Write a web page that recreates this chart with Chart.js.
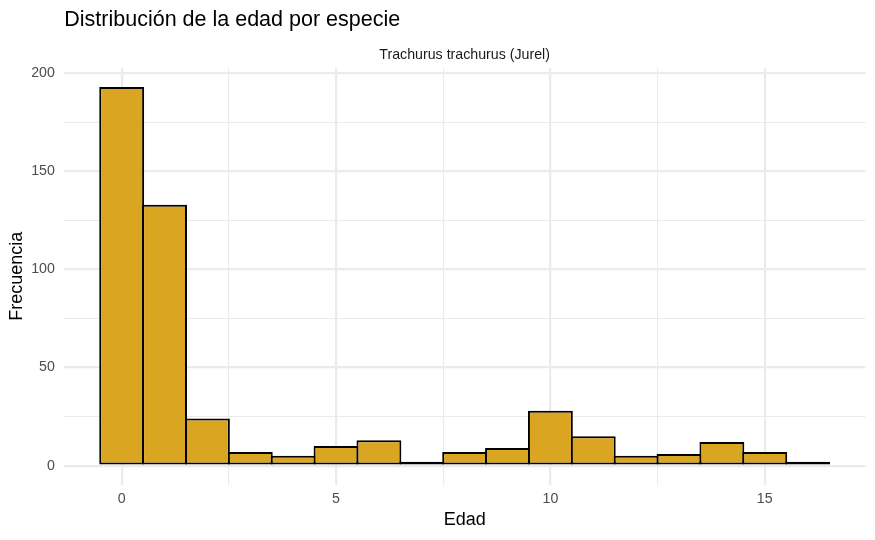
<!DOCTYPE html>
<html lang="es">
<head>
<meta charset="utf-8">
<title>Distribución de la edad por especie</title>
<script src="https://cdn.jsdelivr.net/npm/chart.js@4.4.1/dist/chart.umd.min.js"></script>
<style>
  html, body { margin: 0; padding: 0; background: #fff; }
  #wrap { width: 875px; height: 540px; position: relative; }
</style>
</head>
<body>
<div id="wrap"><canvas id="chart"></canvas></div>
<script>
// data (bin width 1, centred on each age)
const ages = [0, 1, 2, 3, 4, 5, 6, 7, 8, 9, 10, 11, 12, 13, 14, 15, 16];
const counts = [193, 133, 24, 7, 5, 10, 13, 2, 7, 9, 28, 15, 5, 6, 12, 7, 2];
const xGrid = [0, 2.5, 5, 7.5, 10, 12.5, 15];
const yGrid = [0, 25, 50, 75, 100, 125, 150, 175, 200];
const xLabels = [0, 5, 10, 15];
const yLabels = [0, 50, 100, 150, 200];

const titleText = "Distribución de la edad por especie";
const stripText = "Trachurus trachurus (Jurel)";
const xTitle = "Edad";
const yTitle = "Frecuencia";

const FONT = "'Liberation Sans', Arial, Helvetica, sans-serif";
const GRID = "#EBEBEB";

// ggplot-like 5% expansion around the bins
const binLo = ages[0] - 0.5;
const binHi = ages[ages.length - 1] + 0.5;
const xPad = (binHi - binLo) * 0.05;
const yTop = Math.max(...counts);
const yPad = yTop * 0.05;

Chart.defaults.font.family = FONT;

function isMajor(ctx, majors) {
  return ctx.tick ? majors.includes(ctx.tick.value) : true;
}
function gridWidth(majors) {
  return (ctx) => (isMajor(ctx, majors) ? 2.2 : 1.1);
}

const panelText = {
  id: "panelText",
  afterDraw(chart) {
    const { ctx, chartArea } = chart;
    ctx.save();
    ctx.textBaseline = "alphabetic";
    ctx.fillStyle = "#000";
    ctx.textAlign = "left";
    ctx.font = `21.5px ${FONT}`;
    ctx.fillText(titleText, chartArea.left + 0.5, 26);
    ctx.fillStyle = "#1A1A1A";
    ctx.textAlign = "center";
    ctx.font = `14.2px ${FONT}`;
    ctx.fillText(stripText, (chartArea.left + chartArea.right) / 2, 59);
    ctx.restore();
  },
};

new Chart(document.getElementById("chart"), {
  type: "bar",
  data: {
    datasets: [
      {
        data: ages.map((a, i) => ({ x: a, y: counts[i] })),
        backgroundColor: "#DAA520",
        borderColor: "#000",
        borderWidth: 2,
        borderSkipped: false,
        inflateAmount: 0,
        barPercentage: 1.047,
        categoryPercentage: 1,
      },
    ],
  },
  options: {
    responsive: true,
    maintainAspectRatio: false,
    animation: false,
    layout: { padding: { top: 68, right: 9.5, bottom: 0, left: 0 } },
    plugins: {
      legend: { display: false },
      tooltip: { enabled: false },
      title: { display: false },
    },
    scales: {
      x: {
        type: "linear",
        offset: false,
        min: binLo - xPad,
        max: binHi + xPad,
        afterBuildTicks: (scale) => {
          scale.ticks = xGrid.map((v) => ({ value: v }));
        },
        afterFit: (scale) => {
          scale.height = 55.4;
        },
        ticks: {
          padding: 5.6,
          color: "#4D4D4D",
          font: { size: 14.2 },
          maxRotation: 0,
          autoSkip: false,
          callback: (v) => (xLabels.includes(v) ? String(v) : ""),
        },
        grid: {
          offset: false,
          color: GRID,
          lineWidth: gridWidth(xLabels),
          drawTicks: false,
        },
        border: { display: false },
        title: {
          display: true,
          text: xTitle,
          color: "#000",
          font: { size: 18 },
          padding: { top: 0, bottom: 9.2 },
        },
      },
      y: {
        min: -yPad,
        max: yTop + yPad,
        afterBuildTicks: (scale) => {
          scale.ticks = yGrid.map((v) => ({ value: v }));
        },
        afterFit: (scale) => {
          scale.width = 63.8;
        },
        ticks: {
          padding: 9,
          color: "#4D4D4D",
          font: { size: 14.2 },
          autoSkip: false,
          callback: (v) => (yLabels.includes(v) ? String(v) : ""),
        },
        grid: {
          color: GRID,
          lineWidth: gridWidth(yLabels),
          drawTicks: false,
        },
        border: { display: false },
        title: {
          display: true,
          text: yTitle,
          color: "#000",
          font: { size: 18 },
          padding: { top: 6.7, bottom: 0 },
        },
      },
    },
  },
  plugins: [panelText],
});
</script>
</body>
</html>
